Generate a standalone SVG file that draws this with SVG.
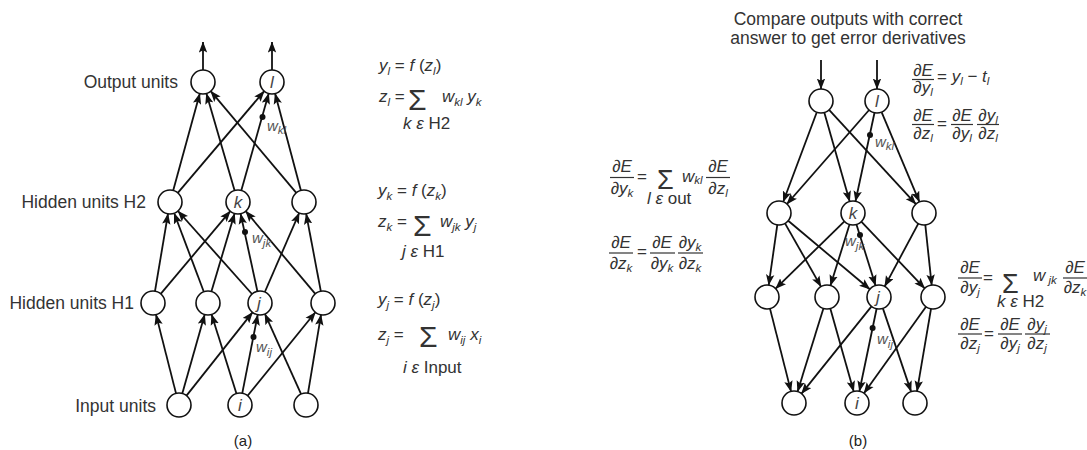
<svg xmlns="http://www.w3.org/2000/svg" width="1087" height="450" viewBox="0 0 1087 450">
<defs>
<marker id="ah" markerUnits="userSpaceOnUse" markerWidth="11" markerHeight="9" viewBox="0 0 11 9" refX="10.5" refY="4.5" orient="auto">
<path d="M0,0.3 L11,4.5 L0,8.7 L2.2,4.5 z" fill="#111"/>
</marker>
<style>
.ln{stroke:#111;stroke-width:1.8;fill:none;marker-end:url(#ah)}
.nd{fill:#fff;stroke:#111;stroke-width:1.6}
.nl{font-family:"Liberation Sans",Arial,sans-serif;font-size:17px;font-style:italic;fill:#444;text-anchor:middle}
.lb{font-family:"Liberation Sans",Arial,sans-serif;font-size:17.5px;fill:#333}
.eq{font-family:"Liberation Sans",Arial,sans-serif;font-size:17px;fill:#333}
.it{font-style:italic}
.sb{font-size:11.5px;font-style:italic}
.sg{font-family:"Liberation Sans",Arial,sans-serif;font-size:30px;fill:#333}
.sg2{font-family:"Liberation Sans",Arial,sans-serif;font-size:27px;fill:#333}
.fr{font-family:"Liberation Sans",Arial,sans-serif;font-size:17px;font-style:italic;fill:#333;text-anchor:middle}
.bar{stroke:#333;stroke-width:1.2}
.w{font-family:"Liberation Sans",Arial,sans-serif;font-size:15px;font-style:italic;fill:#555}
.dot{fill:#111}
.cap{font-family:"Liberation Sans",Arial,sans-serif;font-size:15px;fill:#222;text-anchor:middle}
</style>
</defs>
<rect width="1087" height="450" fill="#fff"/>

<!-- ===== Panel (a) connectors ===== -->
<g id="connectors-a">
<line class="ln" x1="203" y1="70" x2="203" y2="42"/>
<line class="ln" x1="272" y1="70" x2="272" y2="42"/>
<line class="ln" x1="173.2" y1="190.4" x2="199.8" y2="93.6"/>
<line class="ln" x1="234.6" y1="190.5" x2="206.4" y2="93.5"/>
<line class="ln" x1="296.3" y1="192.8" x2="210.7" y2="91.2"/>
<line class="ln" x1="177.8" y1="192.9" x2="264.2" y2="91.1"/>
<line class="ln" x1="241.3" y1="190.5" x2="268.7" y2="93.5"/>
<line class="ln" x1="300.9" y1="190.4" x2="275.1" y2="93.6"/>
<line class="ln" x1="155.0" y1="291.2" x2="168.0" y2="213.8"/>
<line class="ln" x1="203.8" y1="291.8" x2="174.2" y2="213.2"/>
<line class="ln" x1="252.0" y1="294.0" x2="178.0" y2="211.0"/>
<line class="ln" x1="160.7" y1="293.8" x2="230.3" y2="211.2"/>
<line class="ln" x1="211.4" y1="291.5" x2="234.6" y2="213.5"/>
<line class="ln" x1="257.4" y1="291.3" x2="240.6" y2="213.7"/>
<line class="ln" x1="315.3" y1="293.8" x2="245.7" y2="211.2"/>
<line class="ln" x1="264.8" y1="292.0" x2="299.2" y2="213.0"/>
<line class="ln" x1="320.8" y1="291.2" x2="306.2" y2="213.8"/>
<line class="ln" x1="176.0" y1="393.4" x2="156.0" y2="314.6"/>
<line class="ln" x1="182.3" y1="393.5" x2="204.7" y2="314.5"/>
<line class="ln" x1="186.5" y1="395.6" x2="252.5" y2="312.4"/>
<line class="ln" x1="236.4" y1="393.5" x2="211.6" y2="314.5"/>
<line class="ln" x1="242.3" y1="393.2" x2="257.7" y2="314.8"/>
<line class="ln" x1="247.6" y1="395.7" x2="315.4" y2="312.3"/>
<line class="ln" x1="301.1" y1="394.1" x2="264.9" y2="313.9"/>
<line class="ln" x1="308.0" y1="393.2" x2="321.0" y2="314.8"/>
<circle class="dot" cx="262.5" cy="117" r="3"/>
<circle class="dot" cx="245" cy="232" r="3"/>
<circle class="dot" cx="253.5" cy="337" r="3"/>
</g>

<!-- Panel (a) nodes -->
<g id="a-out1"><circle class="nd" cx="203" cy="82" r="12"/></g>
<g id="a-out-l"><circle class="nd" cx="272" cy="82" r="12"/><text class="nl" x="272" y="88">l</text></g>
<g id="a-h2a"><circle class="nd" cx="170" cy="202" r="12"/></g>
<g id="a-h2-k"><circle class="nd" cx="238" cy="202" r="12"/><text class="nl" x="238" y="208">k</text></g>
<g id="a-h2c"><circle class="nd" cx="304" cy="202" r="12"/></g>
<g id="a-h1a"><circle class="nd" cx="153" cy="303" r="12"/></g>
<g id="a-h1b"><circle class="nd" cx="208" cy="303" r="12"/></g>
<g id="a-h1-j"><circle class="nd" cx="260" cy="303" r="12"/><text class="nl" x="259" y="309">j</text></g>
<g id="a-h1d"><circle class="nd" cx="323" cy="303" r="12"/></g>
<g id="a-in1"><circle class="nd" cx="179" cy="405" r="12"/></g>
<g id="a-in-i"><circle class="nd" cx="240" cy="405" r="12"/><text class="nl" x="240" y="411">i</text></g>
<g id="a-in3"><circle class="nd" cx="306" cy="405" r="12"/></g>

<!-- weight labels (a) -->
<text class="w" x="267" y="131">w<tspan class="sb" dy="3">kl</tspan></text>
<text class="w" x="252" y="243">w<tspan class="sb" dy="4">jk</tspan></text>
<text class="w" x="256" y="352">w<tspan class="sb" dy="4">ij</tspan></text>

<!-- layer labels -->
<g id="labels-a">
<text class="lb" x="178" y="88" text-anchor="end">Output units</text>
<text class="lb" x="146" y="208" text-anchor="end">Hidden units H2</text>
<text class="lb" x="134" y="309" text-anchor="end">Hidden units H1</text>
<text class="lb" x="156" y="412" text-anchor="end">Input units</text>
<text class="cap" x="243" y="446">(a)</text>
</g>

<!-- equations (a) -->
<g id="eq-a1">
<text class="eq" x="379" y="71"><tspan class="it">y</tspan><tspan class="sb" dy="4">l</tspan><tspan dy="-4"> = </tspan><tspan class="it">f</tspan> (<tspan class="it">z</tspan><tspan class="sb" dy="4">l</tspan><tspan dy="-4">)</tspan></text>
<text class="eq" x="379" y="102"><tspan class="it">z</tspan><tspan class="sb" dy="4">l</tspan><tspan dy="-4"> =</tspan></text>
<text class="sg" x="408" y="110">Σ</text>
<text class="eq" x="442" y="102"><tspan class="it">w</tspan><tspan class="sb" dy="4">kl</tspan><tspan class="it" dy="-4"> y</tspan><tspan class="sb" dy="4">k</tspan></text>
<text class="eq" x="403" y="129"><tspan class="it">k ε</tspan> H2</text>
</g>
<g id="eq-a2">
<text class="eq" x="378" y="196"><tspan class="it">y</tspan><tspan class="sb" dy="4">k</tspan><tspan dy="-4"> = </tspan><tspan class="it">f</tspan> (<tspan class="it">z</tspan><tspan class="sb" dy="4">k</tspan><tspan dy="-4">)</tspan></text>
<text class="eq" x="378" y="227"><tspan class="it">z</tspan><tspan class="sb" dy="4">k</tspan><tspan dy="-4"> =</tspan></text>
<text class="sg" x="413" y="236">Σ</text>
<text class="eq" x="440" y="227"><tspan class="it">w</tspan><tspan class="sb" dy="4">jk</tspan><tspan class="it" dy="-4"> y</tspan><tspan class="sb" dy="4">j</tspan></text>
<text class="eq" x="402" y="257"><tspan class="it">j ε</tspan> H1</text>
</g>
<g id="eq-a3">
<text class="eq" x="378" y="305"><tspan class="it">y</tspan><tspan class="sb" dy="4">j</tspan><tspan dy="-4"> = </tspan><tspan class="it">f</tspan> (<tspan class="it">z</tspan><tspan class="sb" dy="4">j</tspan><tspan dy="-4">)</tspan></text>
<text class="eq" x="378" y="340"><tspan class="it">z</tspan><tspan class="sb" dy="4">j</tspan><tspan dy="-4"> =</tspan></text>
<text class="sg" x="419" y="347">Σ</text>
<text class="eq" x="448" y="340"><tspan class="it">w</tspan><tspan class="sb" dy="4">ij</tspan><tspan class="it" dy="-4"> x</tspan><tspan class="sb" dy="4">i</tspan></text>
<text class="eq" x="403" y="373"><tspan class="it">i ε</tspan> Input</text>
</g>

<!-- ===== Panel (b) connectors ===== -->
<g id="connectors-b">
<line class="ln" x1="821" y1="60" x2="821" y2="89"/>
<line class="ln" x1="877" y1="60" x2="877" y2="89"/>
<line class="ln" x1="816.8" y1="112.2" x2="783.2" y2="201.8"/>
<line class="ln" x1="824.3" y1="112.5" x2="849.7" y2="201.5"/>
<line class="ln" x1="829.1" y1="109.8" x2="915.9" y2="204.2"/>
<line class="ln" x1="869.1" y1="110.0" x2="786.9" y2="204.0"/>
<line class="ln" x1="874.5" y1="112.7" x2="855.5" y2="201.3"/>
<line class="ln" x1="881.6" y1="112.1" x2="919.4" y2="201.9"/>
<line class="ln" x1="777.3" y1="224.9" x2="768.7" y2="285.1"/>
<line class="ln" x1="785.0" y1="223.4" x2="821.0" y2="286.6"/>
<line class="ln" x1="788.2" y1="220.7" x2="869.8" y2="289.3"/>
<line class="ln" x1="844.4" y1="221.4" x2="775.6" y2="288.6"/>
<line class="ln" x1="849.5" y1="224.5" x2="830.5" y2="285.5"/>
<line class="ln" x1="856.5" y1="224.5" x2="875.5" y2="285.5"/>
<line class="ln" x1="861.3" y1="221.7" x2="924.7" y2="288.3"/>
<line class="ln" x1="918.3" y1="223.6" x2="884.7" y2="286.4"/>
<line class="ln" x1="925.3" y1="224.9" x2="931.7" y2="285.1"/>
<line class="ln" x1="770.0" y1="308.6" x2="791.0" y2="391.4"/>
<line class="ln" x1="823.4" y1="308.5" x2="797.6" y2="391.5"/>
<line class="ln" x1="871.5" y1="306.4" x2="801.5" y2="393.6"/>
<line class="ln" x1="830.3" y1="308.5" x2="853.7" y2="391.5"/>
<line class="ln" x1="876.6" y1="308.7" x2="859.4" y2="391.3"/>
<line class="ln" x1="926.0" y1="306.8" x2="864.0" y2="393.2"/>
<line class="ln" x1="882.9" y1="308.4" x2="911.1" y2="391.6"/>
<line class="ln" x1="931.0" y1="308.8" x2="917.0" y2="391.2"/>
<circle class="dot" cx="870" cy="135" r="3"/>
<circle class="dot" cx="860" cy="235" r="3"/>
<circle class="dot" cx="872.6" cy="328" r="3"/>
</g>

<!-- Panel (b) nodes -->
<g id="b-out1"><circle class="nd" cx="821" cy="101" r="12"/></g>
<g id="b-out-l"><circle class="nd" cx="877" cy="101" r="12"/><text class="nl" x="877" y="107">l</text></g>
<g id="b-h2a"><circle class="nd" cx="779" cy="213" r="12"/></g>
<g id="b-h2-k"><circle class="nd" cx="853" cy="213" r="12"/><text class="nl" x="853" y="219">k</text></g>
<g id="b-h2c"><circle class="nd" cx="924" cy="213" r="12"/></g>
<g id="b-h1a"><circle class="nd" cx="767" cy="297" r="12"/></g>
<g id="b-h1b"><circle class="nd" cx="827" cy="297" r="12"/></g>
<g id="b-h1-j"><circle class="nd" cx="879" cy="297" r="12"/><text class="nl" x="878" y="303">j</text></g>
<g id="b-h1d"><circle class="nd" cx="933" cy="297" r="12"/></g>
<g id="b-in1"><circle class="nd" cx="794" cy="403" r="12"/></g>
<g id="b-in-i"><circle class="nd" cx="857" cy="403" r="12"/><text class="nl" x="857" y="409">i</text></g>
<g id="b-in3"><circle class="nd" cx="915" cy="403" r="12"/></g>

<!-- weight labels (b) -->
<text class="w" x="875" y="147">w<tspan class="sb" dy="3">kl</tspan></text>
<text class="w" x="845" y="246">w<tspan class="sb" dy="4">jk</tspan></text>
<text class="w" x="877" y="344">w<tspan class="sb" dy="4">ij</tspan></text>

<g id="labels-b">
<text class="lb" x="848" y="25" text-anchor="middle">Compare outputs with correct</text>
<text class="lb" x="848" y="44" text-anchor="middle">answer to get error derivatives</text>
<text class="cap" x="858" y="446">(b)</text>
</g>

<!-- equations (b) -->
<g id="eq-b1">
<text class="fr" x="923" y="76">∂E</text>
<line class="bar" x1="912" y1="79.5" x2="934" y2="79.5"/>
<text class="fr" x="923" y="93">∂y<tspan class="sb" dy="3">l</tspan></text>
<text class="eq" x="937" y="82">= <tspan class="it">y</tspan><tspan class="sb" dy="3">l</tspan><tspan dy="-3"> − </tspan><tspan class="it">t</tspan><tspan class="sb" dy="3">l</tspan></text>
</g>
<g id="eq-b2">
<text class="fr" x="923" y="121">∂E</text>
<line class="bar" x1="912" y1="124.5" x2="934" y2="124.5"/>
<text class="fr" x="923" y="139">∂z<tspan class="sb" dy="3">l</tspan></text>
<text class="eq" x="937" y="129">=</text>
<text class="fr" x="962" y="121">∂E</text>
<line class="bar" x1="951" y1="124.5" x2="973" y2="124.5"/>
<text class="fr" x="962" y="139">∂y<tspan class="sb" dy="3">l</tspan></text>
<text class="fr" x="988" y="121">∂y<tspan class="sb" dy="3">l</tspan></text>
<line class="bar" x1="977" y1="124.5" x2="999" y2="124.5"/>
<text class="fr" x="988" y="139">∂z<tspan class="sb" dy="3">l</tspan></text>
</g>
<g id="eq-b3">
<text class="fr" x="622" y="172">∂E</text>
<line class="bar" x1="610" y1="177.5" x2="634" y2="177.5"/>
<text class="fr" x="622" y="193.5">∂y<tspan class="sb" dy="3">k</tspan></text>
<text class="eq" x="637" y="182">=</text>
<text class="sg2" x="657" y="189">Σ</text>
<text class="eq" x="682" y="182"><tspan class="it">w</tspan><tspan class="sb" dy="2">kl</tspan></text>
<text class="fr" x="718" y="172">∂E</text>
<line class="bar" x1="706" y1="177.5" x2="730" y2="177.5"/>
<text class="fr" x="718" y="193.5">∂z<tspan class="sb" dy="3">l</tspan></text>
<text class="eq" x="647" y="204"><tspan class="it">l ε</tspan> out</text>
</g>
<g id="eq-b4">
<text class="fr" x="621" y="248">∂E</text>
<line class="bar" x1="609" y1="253" x2="633" y2="253"/>
<text class="fr" x="621" y="269">∂z<tspan class="sb" dy="3">k</tspan></text>
<text class="eq" x="637" y="257">=</text>
<text class="fr" x="662" y="248">∂E</text>
<line class="bar" x1="650" y1="253" x2="675" y2="253"/>
<text class="fr" x="662" y="269">∂y<tspan class="sb" dy="3">k</tspan></text>
<text class="fr" x="690" y="248">∂y<tspan class="sb" dy="3">k</tspan></text>
<line class="bar" x1="678" y1="253" x2="703" y2="253"/>
<text class="fr" x="690" y="269">∂z<tspan class="sb" dy="3">k</tspan></text>
</g>
<g id="eq-b5">
<text class="fr" x="970" y="273">∂E</text>
<line class="bar" x1="958" y1="278" x2="982" y2="278"/>
<text class="fr" x="970" y="293">∂y<tspan class="sb" dy="3">j</tspan></text>
<text class="eq" x="983" y="283">=</text>
<text class="sg2" x="1002" y="293">Σ</text>
<text class="eq" x="1033" y="281"><tspan class="it">w</tspan><tspan class="sb" dy="3"> jk</tspan></text>
<text class="fr" x="1075" y="273">∂E</text>
<line class="bar" x1="1063" y1="278" x2="1087" y2="278"/>
<text class="fr" x="1075" y="293">∂z<tspan class="sb" dy="3">k</tspan></text>
<text class="eq" x="997" y="307"><tspan class="it">k ε</tspan> H2</text>
</g>
<g id="eq-b6">
<text class="fr" x="970" y="330">∂E</text>
<line class="bar" x1="958" y1="334" x2="982" y2="334"/>
<text class="fr" x="970" y="349">∂z<tspan class="sb" dy="3">j</tspan></text>
<text class="eq" x="984" y="339">=</text>
<text class="fr" x="1010" y="330">∂E</text>
<line class="bar" x1="998" y1="334" x2="1022" y2="334"/>
<text class="fr" x="1010" y="349">∂y<tspan class="sb" dy="3">j</tspan></text>
<text class="fr" x="1037" y="330">∂y<tspan class="sb" dy="3">j</tspan></text>
<line class="bar" x1="1025" y1="334" x2="1050" y2="334"/>
<text class="fr" x="1037" y="349">∂z<tspan class="sb" dy="3">j</tspan></text>
</g>
</svg>
